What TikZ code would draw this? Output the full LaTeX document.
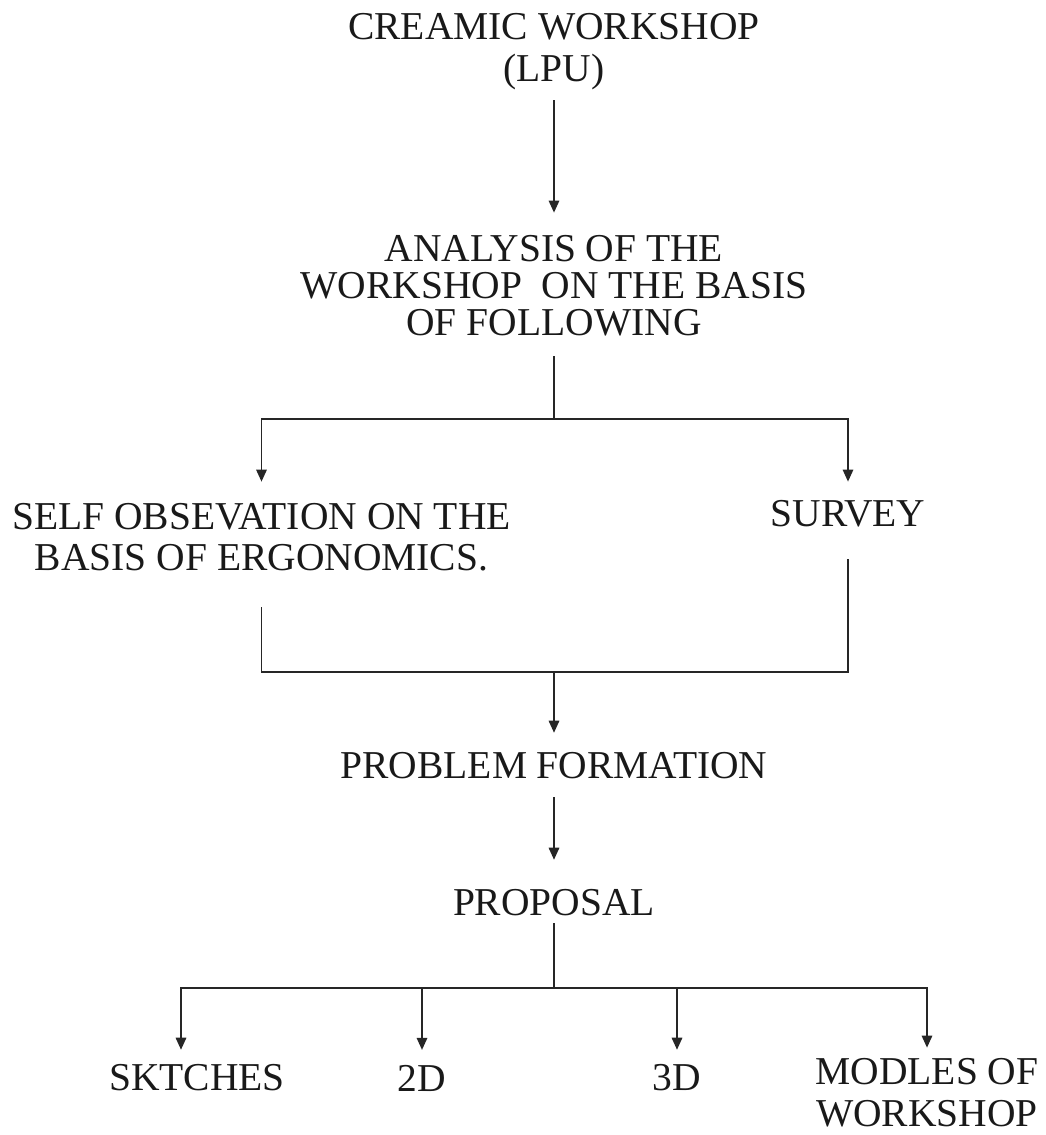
\documentclass[tikz,border=0pt]{standalone}
\usepackage{fontspec}
\setmainfont{Liberation Serif}
\usetikzlibrary{positioning,arrows.meta}

\begin{document}
\begin{tikzpicture}[x=1pt, y=-1pt,
    txt/.style={inner sep=0pt, outer sep=0pt, align=center, text=black!90,
      font=\fontsize{39.5}{42}\selectfont},
    line/.style={draw=black!85, line width=1.5pt},
    arr/.style={line, -{Triangle[length=12pt,width=10.5pt]}}]
\useasboundingbox (0,0) rectangle (1045,1135);

% steps
\node[txt] (lpu) at (554,52) {CREAMIC WORKSHOP\\(LPU)};
\node[txt, font=\fontsize{39.5}{37}\selectfont] (ana) at (554,286)
  {ANALYSIS OF THE\\WORKSHOP\ \ ON THE BASIS\\OF FOLLOWING};
\node[txt, font=\fontsize{39.5}{41}\selectfont] (self) at (261.5,537.5)
  {SELF OBSEVATION ON THE\\BASIS OF ERGONOMICS.};
\node[txt] (survey) at (848,514) {SURVEY};
\node[txt] (prob) at (554,766) {PROBLEM FORMATION};
\node[txt] (prop) at (554,903) {PROPOSAL};
\node[txt] (sk) at (197,1078) {SKTCHES};
\node[txt] (d2) at (422,1078) {2D};
\node[txt] (d3) at (677,1078) {3D};
\node[txt] (mod) at (927,1093) {MODLES OF\\WORKSHOP};

% junctions
\coordinate (j1) at (554,419);
\coordinate (j2) at (554,672);
\coordinate (j3) at (554,988);

% connectors
\draw[arr, shorten <=10pt, shorten >=23pt] (lpu.south) -- (ana.north);
\draw[line, shorten <=20pt] (ana.south) -- (j1);
\draw[arr, shorten >=22pt] (j1) -| (self.north);
\draw[arr, shorten >=19pt] (j1) -| (survey.north);
\draw[line, shorten <=36pt] (self.south) |- (j2);
\draw[line, shorten <=32pt] (survey.south) |- (j2);
\draw[arr, shorten >=20pt] (j2) -- (prob.north);
\draw[arr, shorten <=18pt, shorten >=30pt] (prob.south) -- (prop.north);
\draw[line, shorten <=7pt] (prop.south) -- (j3);
\draw[arr, shorten >=15pt] (j3) -| ([xshift=-16pt]sk.north);
\foreach \n in {d2,d3}
  \draw[arr, shorten >=15pt] (j3) -| (\n.north);
\draw[arr, shorten >=11pt] (j3) -| (mod.north);
\end{tikzpicture}
\end{document}
